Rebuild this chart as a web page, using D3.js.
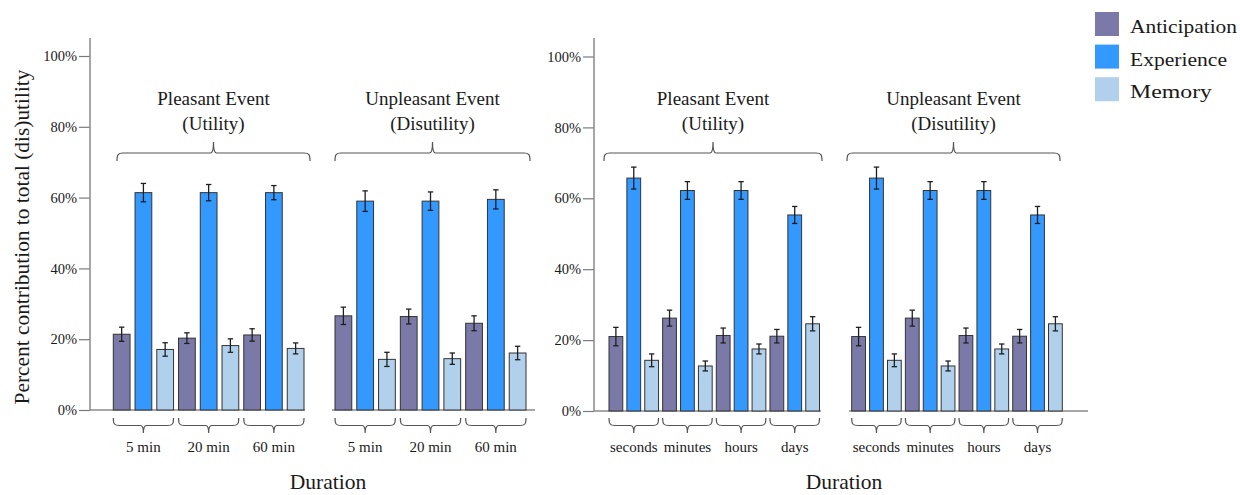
<!DOCTYPE html>
<html>
<head>
<meta charset="utf-8">
<script src="https://cdn.jsdelivr.net/npm/d3@7/dist/d3.min.js"></script>
<style>
  html, body { margin: 0; padding: 0; background: #fff; }
  svg { display: block; }
  text { font-family: "Liberation Serif", "Times New Roman", serif; fill: #1a1a1a; }
</style>
</head>
<body>
<svg id="chart" width="1240" height="495"></svg>
<script>
// ---- data (percent contribution to total (dis)utility) ----
const seriesNames = ["Anticipation", "Experience", "Memory"];
const minuteDurations = ["5 min", "20 min", "60 min"];
const spanDurations = ["seconds", "minutes", "hours", "days"];
const yTicks = [0, 20, 40, 60, 80, 100];

// Study with 5 / 20 / 60 minute events
const pleasantMinAnticipation = [21.4, 20.3, 21.2];
const pleasantMinExperience   = [61.4, 61.4, 61.4];
const pleasantMinMemory       = [17.1, 18.2, 17.4];
const pleasantMinAnticipationErr = [2.0, 1.5, 1.75];
const pleasantMinExperienceErr   = [2.6, 2.3, 2.0];
const pleasantMinMemoryErr       = [1.9, 1.9, 1.55];

const unpleasantMinAnticipation = [26.6, 26.4, 24.5];
const unpleasantMinExperience   = [59.0, 59.0, 59.5];
const unpleasantMinMemory       = [14.3, 14.5, 16.1];
const unpleasantMinAnticipationErr = [2.45, 2.1, 2.1];
const unpleasantMinExperienceErr   = [2.9, 2.6, 2.7];
const unpleasantMinMemoryErr       = [2.0, 1.6, 1.9];

// Study with seconds / minutes / hours / days events
const pleasantSpanAnticipation = [21.0, 26.2, 21.3, 21.1];
const pleasantSpanExperience   = [65.7, 62.2, 62.2, 55.3];
const pleasantSpanMemory       = [14.3, 12.7, 17.5, 24.6];
const pleasantSpanAnticipationErr = [2.6, 2.25, 2.1, 1.9];
const pleasantSpanExperienceErr   = [3.1, 2.5, 2.5, 2.4];
const pleasantSpanMemoryErr       = [1.8, 1.4, 1.4, 2.0];

const unpleasantSpanAnticipation = [21.0, 26.2, 21.3, 21.1];
const unpleasantSpanExperience   = [65.7, 62.2, 62.2, 55.3];
const unpleasantSpanMemory       = [14.3, 12.7, 17.5, 24.6];
const unpleasantSpanAnticipationErr = [2.6, 2.25, 2.1, 1.9];
const unpleasantSpanExperienceErr   = [3.1, 2.5, 2.5, 2.4];
const unpleasantSpanMemoryErr       = [1.8, 1.4, 1.4, 2.0];

// ---- styling ----
const colors = { Anticipation: "#7b79a8", Experience: "#3399ff", Memory: "#b0d0ec" };
const color = d3.scaleOrdinal().domain(seriesNames).range(seriesNames.map(s => colors[s]));

const svg = d3.select("#chart");

// ---- layout of the two charts and their four panels ----
const charts = [
  { axisX: 90,  axisTop: 38, y: d3.scaleLinear().domain([0, 100]).range([410, 56]),   titleX: 328 },
  { axisX: 594, axisTop: 38, y: d3.scaleLinear().domain([0, 100]).range([411, 56.5]), titleX: 844 }
];

const panels = [
  { chart: 0, title: ["Pleasant Event", "(Utility)"], cats: minuteDurations,
    vals: [pleasantMinAnticipation, pleasantMinExperience, pleasantMinMemory],
    errs: [pleasantMinAnticipationErr, pleasantMinExperienceErr, pleasantMinMemoryErr],
    bars: [113.3, 304], base: [90, 305], brace: [117, 310] },
  { chart: 0, title: ["Unpleasant Event", "(Disutility)"], cats: minuteDurations,
    vals: [unpleasantMinAnticipation, unpleasantMinExperience, unpleasantMinMemory],
    errs: [unpleasantMinAnticipationErr, unpleasantMinExperienceErr, unpleasantMinMemoryErr],
    bars: [335, 526], base: [332, 535], brace: [335, 530] },
  { chart: 1, title: ["Pleasant Event", "(Utility)"], cats: spanDurations,
    vals: [pleasantSpanAnticipation, pleasantSpanExperience, pleasantSpanMemory],
    errs: [pleasantSpanAnticipationErr, pleasantSpanExperienceErr, pleasantSpanMemoryErr],
    bars: [609, 819.5], base: [594, 821], brace: [604, 822] },
  { chart: 1, title: ["Unpleasant Event", "(Disutility)"], cats: spanDurations,
    vals: [unpleasantSpanAnticipation, unpleasantSpanExperience, unpleasantSpanMemory],
    errs: [unpleasantSpanAnticipationErr, unpleasantSpanExperienceErr, unpleasantSpanMemoryErr],
    bars: [851.7, 1062.3], base: [849, 1088], brace: [847, 1060] }
];

// curly brace opening downward (ends hang below, nub points up)
function braceDown(x0, x1, yLine, drop, nub) {
  const cx = (x0 + x1) / 2;
  return `M${x0},${yLine + drop} C${x0},${yLine + 1.5} ${x0 + 1},${yLine} ${x0 + 6},${yLine}` +
         ` H${cx - 3} Q${cx},${yLine} ${cx},${yLine - nub} Q${cx},${yLine} ${cx + 3},${yLine}` +
         ` H${x1 - 6} C${x1 - 1},${yLine} ${x1},${yLine + 1.5} ${x1},${yLine + drop}`;
}
// bracket opening upward (ends rise, nub points down)
function braceUp(x0, x1, yLine, rise, nub) {
  const cx = (x0 + x1) / 2;
  return `M${x0},${yLine - rise} C${x0},${yLine - 1.5} ${x0 + 1},${yLine} ${x0 + 6},${yLine}` +
         ` H${cx - 3} Q${cx},${yLine} ${cx},${yLine + nub} Q${cx},${yLine} ${cx + 3},${yLine}` +
         ` H${x1 - 6} C${x1 - 1},${yLine} ${x1},${yLine - 1.5} ${x1},${yLine - rise}`;
}

// ---- y axes ----
charts.forEach(c => {
  const g = svg.append("g").attr("transform", `translate(${c.axisX},0)`);
  g.call(d3.axisLeft(c.y).tickValues(yTicks).tickFormat(d => d + "%").tickSize(11).tickPadding(2));
  g.select(".domain").remove();
  g.selectAll(".tick line").attr("stroke", "#7a7a7a").attr("stroke-width", 1.2);
  g.selectAll(".tick text")
    .attr("font-family", "Liberation Serif, serif")
    .attr("font-size", 14.5)
    .attr("fill", "#222");
  g.append("line")
    .attr("x1", 0).attr("x2", 0)
    .attr("y1", c.axisTop).attr("y2", c.y(0))
    .attr("stroke", "#8a8a8a").attr("stroke-width", 1.5);
  // x axis title
  svg.append("text")
    .attr("x", c.titleX).attr("y", 489)
    .attr("text-anchor", "middle")
    .attr("font-size", 21.5)
    .text("Duration");
});

// ---- panels ----
panels.forEach(p => {
  const c = charts[p.chart];
  const y = c.y;
  const rows = [];
  p.cats.forEach((cat, ci) => {
    seriesNames.forEach((s, si) => {
      rows.push({ key: cat + "|" + s, cat, series: s, value: p.vals[si][ci], err: p.errs[si][ci] });
    });
  });
  const x = d3.scaleBand()
    .domain(rows.map(r => r.key))
    .range(p.bars)
    .paddingInner(0.23)
    .paddingOuter(0);
  const g = svg.append("g");

  // baseline
  g.append("line")
    .attr("x1", p.base[0]).attr("x2", p.base[1])
    .attr("y1", y(0)).attr("y2", y(0))
    .attr("stroke", "#8a8a8a").attr("stroke-width", 1.4);

  // bars
  g.selectAll("rect.bar").data(rows).join("rect")
    .attr("class", "bar")
    .attr("x", d => x(d.key))
    .attr("width", x.bandwidth())
    .attr("y", d => y(d.value))
    .attr("height", d => y(0) - y(d.value))
    .attr("fill", d => color(d.series))
    .attr("stroke", "#333")
    .attr("stroke-width", 1);

  // error bars
  const eb = g.selectAll("g.err").data(rows).join("g").attr("class", "err")
    .attr("stroke", "#1f1f1f").attr("stroke-width", 1.3);
  eb.append("line")
    .attr("x1", d => x(d.key) + x.bandwidth() / 2).attr("x2", d => x(d.key) + x.bandwidth() / 2)
    .attr("y1", d => y(d.value + d.err)).attr("y2", d => y(d.value - d.err));
  [1, -1].forEach(sign => {
    eb.append("line")
      .attr("x1", d => x(d.key) + x.bandwidth() / 2 - 2.7)
      .attr("x2", d => x(d.key) + x.bandwidth() / 2 + 2.7)
      .attr("y1", d => y(d.value + sign * d.err))
      .attr("y2", d => y(d.value + sign * d.err));
  });

  // group brackets and duration labels
  p.cats.forEach(cat => {
    const first = x(cat + "|" + seriesNames[0]);
    const last = x(cat + "|" + seriesNames[seriesNames.length - 1]) + x.bandwidth();
    g.append("path")
      .attr("d", braceUp(first, last, 425.5, 7.5, 7.5))
      .attr("fill", "none").attr("stroke", "#555").attr("stroke-width", 1.2);
    g.append("text")
      .attr("x", (first + last) / 2).attr("y", 452)
      .attr("text-anchor", "middle")
      .attr("font-size", 15)
      .text(cat);
  });

  // panel brace and title
  const [b0, b1] = p.brace;
  g.append("path")
    .attr("d", braceDown(b0, b1, 153, 8, 11))
    .attr("fill", "none").attr("stroke", "#555").attr("stroke-width", 1.2);
  p.title.forEach((t, i) => {
    g.append("text")
      .attr("x", (b0 + b1) / 2).attr("y", 105 + i * 25)
      .attr("text-anchor", "middle")
      .attr("font-size", 19)
      .text(t);
  });
});

// ---- y axis title ----
svg.append("text")
  .attr("transform", "translate(29,237) rotate(-90)")
  .attr("text-anchor", "middle")
  .attr("font-size", 21)
  .attr("textLength", 335)
  .attr("lengthAdjust", "spacingAndGlyphs")
  .text("Percent contribution to total (dis)utility");

// ---- legend ----
const legendWidths = { Anticipation: 107, Experience: 97, Memory: 82 };
const legend = svg.append("g").attr("transform", "translate(1095,12)");
seriesNames.forEach((s, i) => {
  const row = legend.append("g").attr("transform", `translate(0,${i * 32.6})`);
  row.append("rect").attr("width", 24).attr("height", 24).attr("fill", color(s));
  row.append("text")
    .attr("x", 35).attr("y", 21)
    .attr("font-size", 19.5)
    .attr("textLength", legendWidths[s])
    .attr("lengthAdjust", "spacingAndGlyphs")
    .text(s);
});
</script>
</body>
</html>
